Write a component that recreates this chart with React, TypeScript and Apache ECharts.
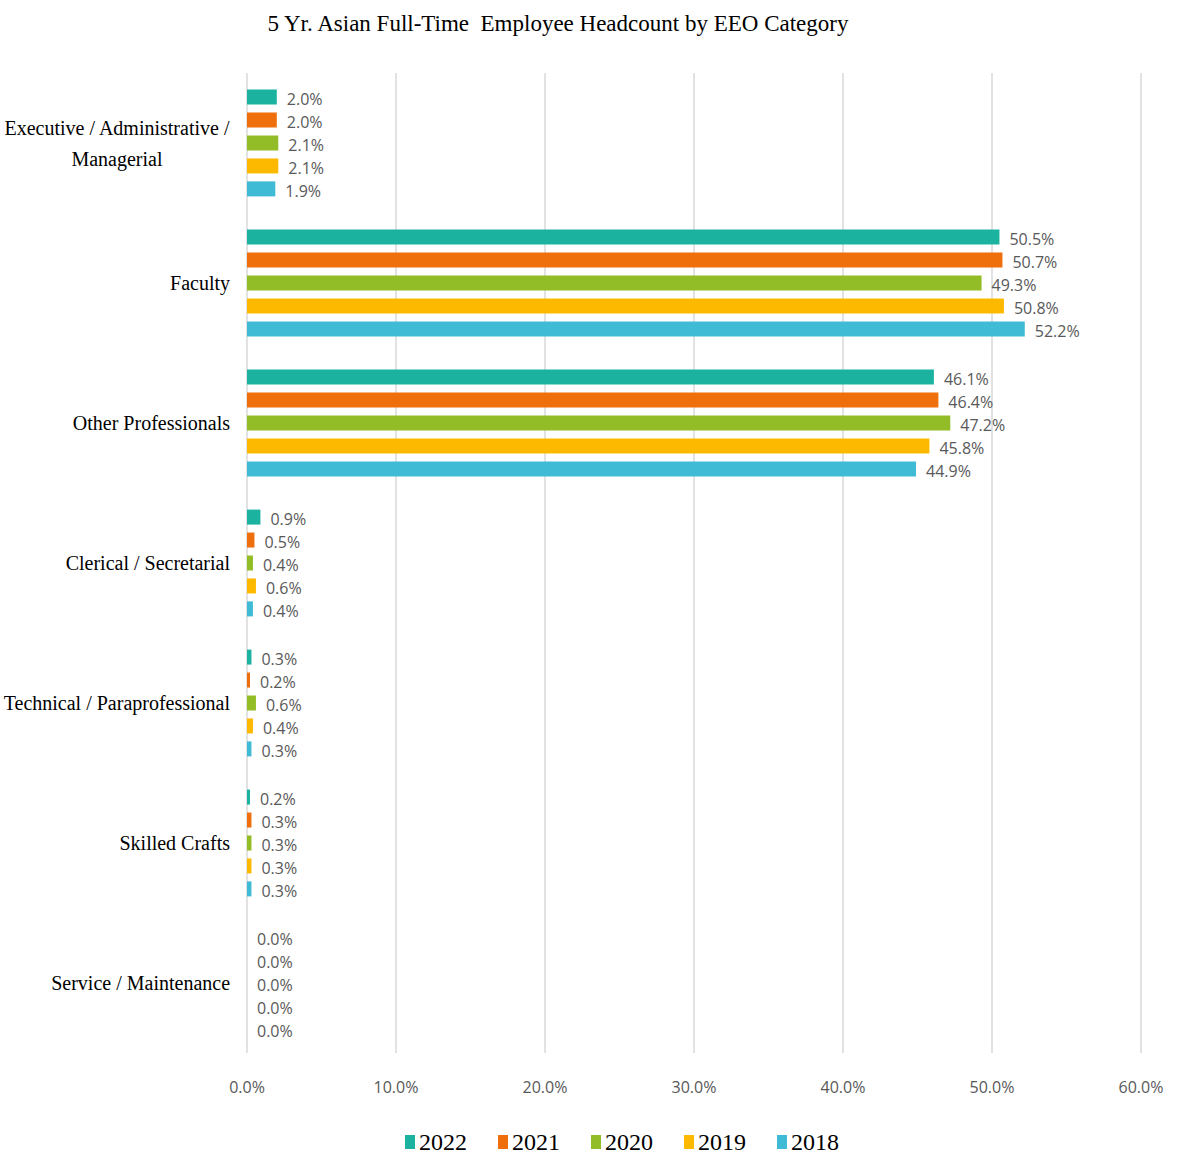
import React, { useEffect, useRef } from "react";
import * as echarts from "echarts";

const categories = [
  "Executive / Administrative /\nManagerial",
  "Faculty",
  "Other Professionals",
  "Clerical / Secretarial",
  "Technical / Paraprofessional",
  "Skilled Crafts",
  "Service / Maintenance",
];
const years = ["2022", "2021", "2020", "2019", "2018"];
const s2022 = [2.0, 50.5, 46.1, 0.9, 0.3, 0.2, 0.0];
const s2021 = [2.0, 50.7, 46.4, 0.5, 0.2, 0.3, 0.0];
const s2020 = [2.1, 49.3, 47.2, 0.4, 0.6, 0.3, 0.0];
const s2019 = [2.1, 50.8, 45.8, 0.6, 0.4, 0.3, 0.0];
const s2018 = [1.9, 52.2, 44.9, 0.4, 0.3, 0.3, 0.0];
const seriesData = [s2022, s2021, s2020, s2019, s2018];
const colors = ["#1bb3a0", "#ef6f0c", "#93bd27", "#fdb900", "#3fbbd6"];
const title = "5 Yr. Asian Full-Time  Employee Headcount by EEO Category";

export default function App() {
  const ref = useRef<HTMLDivElement>(null);
  useEffect(() => {
    document.body.style.margin = "0";
    const chart = echarts.init(ref.current!, null, { renderer: "svg" });
    chart.setOption({
      animation: false,
      backgroundColor: "#ffffff",
      title: {
        text: title,
        left: 553,
        textAlign: "center",
        top: 7,
        textStyle: {
          fontFamily: "Liberation Serif",
          fontWeight: "normal",
          fontSize: 23,
          color: "#000000",
        },
      },
      legend: {
        data: years,
        left: 400,
        top: 1125,
        icon: "rect",
        itemWidth: 10,
        itemHeight: 14,
        itemGap: 31,
        textStyle: {
          fontFamily: "Liberation Serif",
          fontSize: 24,
          color: "#000000",
          padding: [0, 0, 0, -1],
        },
      },
      grid: {
        left: 247,
        right: 36,
        top: 73,
        bottom: 106,
        containLabel: false,
        outerBoundsMode: "none",
      },
      xAxis: {
        type: "value",
        min: 0,
        max: 60,
        interval: 10,
        axisLine: { show: false },
        axisTick: { show: false },
        splitLine: { lineStyle: { color: "#d9d9d9", width: 1.5 } },
        axisLabel: {
          margin: 26,
          fontFamily: "Open Sans",
          fontSize: 16,
          color: "#595959",
          formatter: (v: number) => v.toFixed(1) + "%",
        },
      },
      yAxis: {
        type: "category",
        data: categories,
        inverse: true,
        axisLine: { show: false },
        axisTick: { show: false },
        splitLine: { show: false },
        axisLabel: {
          margin: 17,
          formatter: (v: string) =>
            v.split("\n").map((l) => "{c|" + l + "}").join("\n"),
          rich: {
            c: {
              fontFamily: "Liberation Serif",
              fontSize: 20,
              color: "#000000",
              align: "center",
              lineHeight: 31,
            },
          },
        },
      },
      series: years.map((y, i) => ({
        name: y,
        type: "bar",
        data: seriesData[i],
        barWidth: 15,
        barGap: "53%",
        itemStyle: { color: colors[i] },
        label: {
          show: true,
          position: "right",
          distance: 10,
          offset: [0, 2],
          fontFamily: "Open Sans",
          fontSize: 16,
          color: "#595959",
          formatter: (p: any) => Number(p.value).toFixed(1) + "%",
        },
      })),
    });
    return () => chart.dispose();
  }, []);
  return <div ref={ref} style={{ width: 1177, height: 1159 }} />;
}
